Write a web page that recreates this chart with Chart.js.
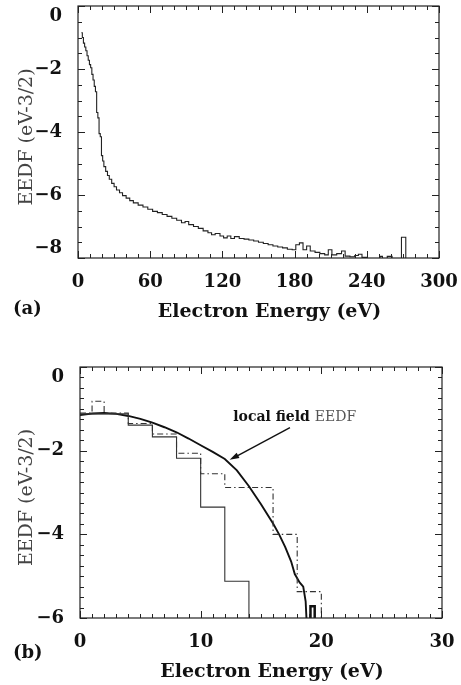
<!DOCTYPE html>
<html>
<head>
<meta charset="utf-8">
<script src="https://cdn.jsdelivr.net/npm/chart.js@4.4.0/dist/chart.umd.min.js"></script>
<style>
  html, body { margin: 0; padding: 0; background: #fff; }
  #wrap { position: relative; width: 461px; height: 685px; }
  canvas { position: absolute; left: 0; top: 0; }
</style>
</head>
<body>
<div id="wrap">
  <canvas id="chartA" width="461" height="685"></canvas>
  <canvas id="chartB" width="461" height="685"></canvas>
</div>
<script>
// Panel (a): full EEDF histogram (left bin edges, log EEDF)
const energyA = [
  2.8, 3.6, 4.5, 5.5, 6.5, 7.5, 8.5, 9.5, 10.5, 11.5,
  12.5, 13.5, 14.5, 15.5, 16.5, 17.5, 18.5, 19.5, 20.5, 21.5,
  23, 24.5, 26, 28, 30, 32, 34.5, 37, 40, 43,
  46, 50, 54, 58, 62, 66, 70, 74, 78, 82,
  86, 89, 92, 96, 100, 104, 108, 111, 114, 118,
  121, 124, 127, 130, 134, 138, 142, 146, 150, 154,
  158, 162, 166, 170, 174, 178, 181, 184, 187, 190,
  193, 197, 201, 205, 208, 211, 215, 219, 222, 226,
  230, 233, 236, 240, 251, 253, 257, 261, 268.8, 272.4
];
const eedfA = [
  -0.85, -1.0, -1.18, -1.3, -1.42, -1.58, -1.72, -1.86, -1.96, -2.17,
  -2.35, -2.55, -2.72, -3.38, -3.55, -4.05, -4.15, -4.75, -4.92, -5.1,
  -5.25, -5.38, -5.5, -5.63, -5.74, -5.84, -5.93, -6.02, -6.1, -6.18,
  -6.25, -6.32, -6.38, -6.45, -6.52, -6.56, -6.62, -6.68, -6.74, -6.8,
  -6.88, -6.84, -6.94, -7.0, -7.06, -7.14, -7.2, -7.26, -7.22, -7.3,
  -7.36, -7.3, -7.38, -7.32, -7.38, -7.4, -7.43, -7.46, -7.5, -7.54,
  -7.58, -7.62, -7.65, -7.68, -7.72, -7.74, -7.58, -7.52, -7.74, -7.62,
  -7.78, -7.82, -7.86, -7.9, -7.74, -7.9, -7.86, -7.78, -7.94, -7.96,
  -7.92, -7.88, -7.98, -8.1, -7.95, -8.1, -7.95, -8.1, -7.34, -8.1
];

// Panel (b): low energy part
const energyB1 = [0, 4, 6, 8, 10, 12, 14];                  // solid steps
const eedfB1 = [-1.12, -1.39, -1.67, -2.18, -3.35, -5.12, -6.3];
const energyB2 = [0, 1, 2, 4, 6, 8, 10, 12, 16, 18, 20];    // dash-dot steps
const eedfB2 = [-1.1, -0.82, -1.1, -1.35, -1.6, -2.06, -2.55, -2.88, -4.0, -5.37, -6.3];
const energyLocal = [0, 1, 2, 3, 4, 5, 6, 7, 8, 9, 10, 11, 12, 13, 14, 15, 16, 16.5, 17, 17.5, 17.8, 18.2, 18.5, 18.7, 18.8];
const eedfLocal = [-1.15, -1.11, -1.1, -1.12, -1.17, -1.24, -1.33, -1.44, -1.56, -1.71, -1.87, -2.03, -2.2, -2.47, -2.85, -3.28, -3.74, -4.0, -4.3, -4.65, -4.95, -5.15, -5.25, -5.6, -6.2];
const energySpike = [19.1, 19.1, 19.45];
const eedfSpike = [-6.2, -5.72, -6.2];

// tick labels
const xTicksA = [0, 60, 120, 180, 240, 300];
const yTicksA = [-8, -6, -4, -2, 0];
const xTicksB = [0, 10, 20, 30];
const yTicksB = [-6, -4, -2, 0];

const SERIF = "'DejaVu Serif', serif";
const INK = '#111';

function toPoints(xs, ys) {
  return xs.map((x, i) => ({ x: x, y: ys[i] }));
}

function minusLabel(v) {
  return v < 0 ? '\u2212' + Math.abs(v) : String(v);
}

function isOn(v, list) {
  return list.some((t) => Math.abs(t - v) < 1e-6);
}

// frame, inward ticks on all four sides, and the texts
const frameTicks = {
  id: 'frameTicks',
  afterDatasetsDraw(chart, args, o) {
    const { ctx, chartArea: a } = chart;
    const x = chart.scales.x, y = chart.scales.y;
    ctx.save();
    ctx.strokeStyle = '#222';
    ctx.lineWidth = 1.2;
    ctx.strokeRect(a.left, a.top, a.right - a.left, a.bottom - a.top);
    ctx.lineWidth = 1;
    ctx.beginPath();
    const nx = Math.round((x.max - x.min) / o.xMinor);
    for (let i = 0; i <= nx; i++) {
      const v = x.min + i * o.xMinor;
      const len = isOn(v, o.xMajor) ? 7 : 4;
      const px = Math.round(x.getPixelForValue(v)) + 0.5;
      ctx.moveTo(px, a.bottom); ctx.lineTo(px, a.bottom - len);
      ctx.moveTo(px, a.top); ctx.lineTo(px, a.top + len);
    }
    const ny = Math.round((y.max - y.min) / o.yMinor);
    for (let i = 0; i <= ny; i++) {
      const v = y.min + i * o.yMinor;
      const len = isOn(v, o.yMajor) ? 7 : 4;
      const py = Math.round(y.getPixelForValue(v)) + 0.5;
      ctx.moveTo(a.left, py); ctx.lineTo(a.left + len, py);
      ctx.moveTo(a.right, py); ctx.lineTo(a.right - len, py);
    }
    ctx.stroke();
    ctx.restore();
  },
  afterDraw(chart, args, o) {
    const { ctx, chartArea: a } = chart;
    ctx.save();
    ctx.fillStyle = INK;
    ctx.textBaseline = 'middle';

    // panel letter
    ctx.font = 'bold 18px ' + SERIF;
    ctx.textAlign = 'left';
    ctx.fillText(o.panel, 13, a.bottom + o.panelDy);

    // x title
    ctx.font = 'bold 19px ' + SERIF;
    ctx.textAlign = 'center';
    ctx.fillText('Electron Energy (eV)', (a.left + a.right) / 2 + 11, a.bottom + 54);

    // y title
    ctx.save();
    ctx.translate(27, (a.top + a.bottom) / 2 + 5);
    ctx.rotate(-Math.PI / 2);
    ctx.font = '19px ' + SERIF;
    ctx.fillStyle = '#444';
    ctx.fillText('EEDF (eV-3/2)', 0, 0);
    ctx.restore();

    // annotation with arrow
    if (o.note) {
      const n = o.note, x = chart.scales.x, y = chart.scales.y;
      const tx = x.getPixelForValue(n.x), ty = y.getPixelForValue(n.y);
      ctx.textBaseline = 'alphabetic';
      ctx.textAlign = 'left';
      ctx.font = 'bold 14px ' + SERIF;
      ctx.fillText(n.bold, tx, ty);
      const w = ctx.measureText(n.bold + ' ').width;
      ctx.font = '14px ' + SERIF;
      ctx.fillStyle = '#555';
      ctx.fillText(n.plain, tx + w, ty);

      const x0 = x.getPixelForValue(n.tailX), y0 = y.getPixelForValue(n.tailY);
      const x1 = x.getPixelForValue(n.tipX), y1 = y.getPixelForValue(n.tipY);
      const ang = Math.atan2(y1 - y0, x1 - x0);
      ctx.strokeStyle = INK;
      ctx.fillStyle = INK;
      ctx.lineWidth = 1.4;
      ctx.beginPath();
      ctx.moveTo(x0, y0);
      ctx.lineTo(x1 - 6 * Math.cos(ang), y1 - 6 * Math.sin(ang));
      ctx.stroke();
      ctx.beginPath();
      ctx.moveTo(x1, y1);
      ctx.lineTo(x1 - 10 * Math.cos(ang - 0.3), y1 - 10 * Math.sin(ang - 0.3));
      ctx.lineTo(x1 - 10 * Math.cos(ang + 0.3), y1 - 10 * Math.sin(ang + 0.3));
      ctx.closePath();
      ctx.fill();
    }
    ctx.restore();
  }
};

// size: h/w fixes the axis box, pad is label padding,
// nudgeMax/nudgeMin push the end labels inside the frame (empty extra line)
function axis(min, max, ticks, size) {
  return {
    type: 'linear',
    min: min,
    max: max,
    grid: { display: false },
    border: { display: false },
    afterBuildTicks: (s) => { s.ticks = ticks.map((v) => ({ value: v })); },
    ticks: {
      color: INK,
      font: { family: SERIF, size: 18, weight: 'bold', lineHeight: 1.1 },
      padding: size.pad,
      autoSkip: false,
      maxRotation: 0,
      callback: (v) => {
        const s = minusLabel(v);
        if (size.nudgeMax && v === max) return ['', s];
        if (size.nudgeMin && v === min) return [s, ''];
        return s;
      }
    },
    afterFit: (s) => {
      if (size.h) s.height = size.h;
      if (size.w) s.width = size.w;
      s.paddingTop = 0; s.paddingBottom = 0;
      s.paddingLeft = 0; s.paddingRight = 0;
    }
  };
}

function baseOptions(pad, scales, frame) {
  return {
    responsive: false,
    animation: false,
    events: [],
    devicePixelRatio: 1,
    layout: { padding: pad },
    scales: scales,
    elements: { point: { radius: 0 } },
    plugins: {
      legend: { display: false },
      tooltip: { enabled: false },
      frameTicks: frame
    }
  };
}

new Chart(document.getElementById('chartA'), {
  type: 'line',
  data: {
    datasets: [{
      data: toPoints(energyA, eedfA),
      borderColor: '#222',
      borderWidth: 1.1,
      stepped: 'before',
      fill: false
    }]
  },
  options: baseOptions(
    { left: 0, top: 6, right: 22, bottom: 382 },
    {
      x: axis(0, 300, xTicksA, { h: 45, pad: 6 }),
      y: axis(-8, 0, yTicksA, { w: 78, pad: 8, nudgeMax: true, nudgeMin: true })
    },
    { xMinor: 10, xMajor: xTicksA, yMinor: 0.5, yMajor: yTicksA, panel: '(a)', panelDy: 51 }
  ),
  plugins: [frameTicks]
});

new Chart(document.getElementById('chartB'), {
  type: 'line',
  data: {
    datasets: [
      {
        data: toPoints(energyB1, eedfB1),
        borderColor: '#333',
        borderWidth: 1.1,
        stepped: 'before',
        fill: false
      },
      {
        data: toPoints(energyB2, eedfB2),
        borderColor: '#333',
        borderWidth: 1.1,
        borderDash: [6, 3, 1.5, 3],
        stepped: 'before',
        fill: false
      },
      {
        data: toPoints(energyLocal, eedfLocal),
        borderColor: '#111',
        borderWidth: 1.9,
        fill: false
      },
      {
        data: toPoints(energySpike, eedfSpike),
        borderColor: '#111',
        borderWidth: 2.5,
        stepped: 'before',
        fill: false
      }
    ]
  },
  options: baseOptions(
    { left: 0, top: 367, right: 19, bottom: 22 },
    {
      x: axis(0, 30, xTicksB, { h: 45, pad: 6 }),
      y: axis(-6, 0, yTicksB, { w: 80, pad: 8, nudgeMax: true })
    },
    {
      xMinor: 1, xMajor: xTicksB, yMinor: 0.25, yMajor: yTicksB, panel: '(b)', panelDy: 35,
      note: { x: 12.7, y: -1.3, bold: 'local field', plain: 'EEDF', tailX: 17.4, tailY: -1.45, tipX: 12.4, tipY: -2.22 }
    }
  ),
  plugins: [frameTicks]
});
</script>
</body>
</html>
